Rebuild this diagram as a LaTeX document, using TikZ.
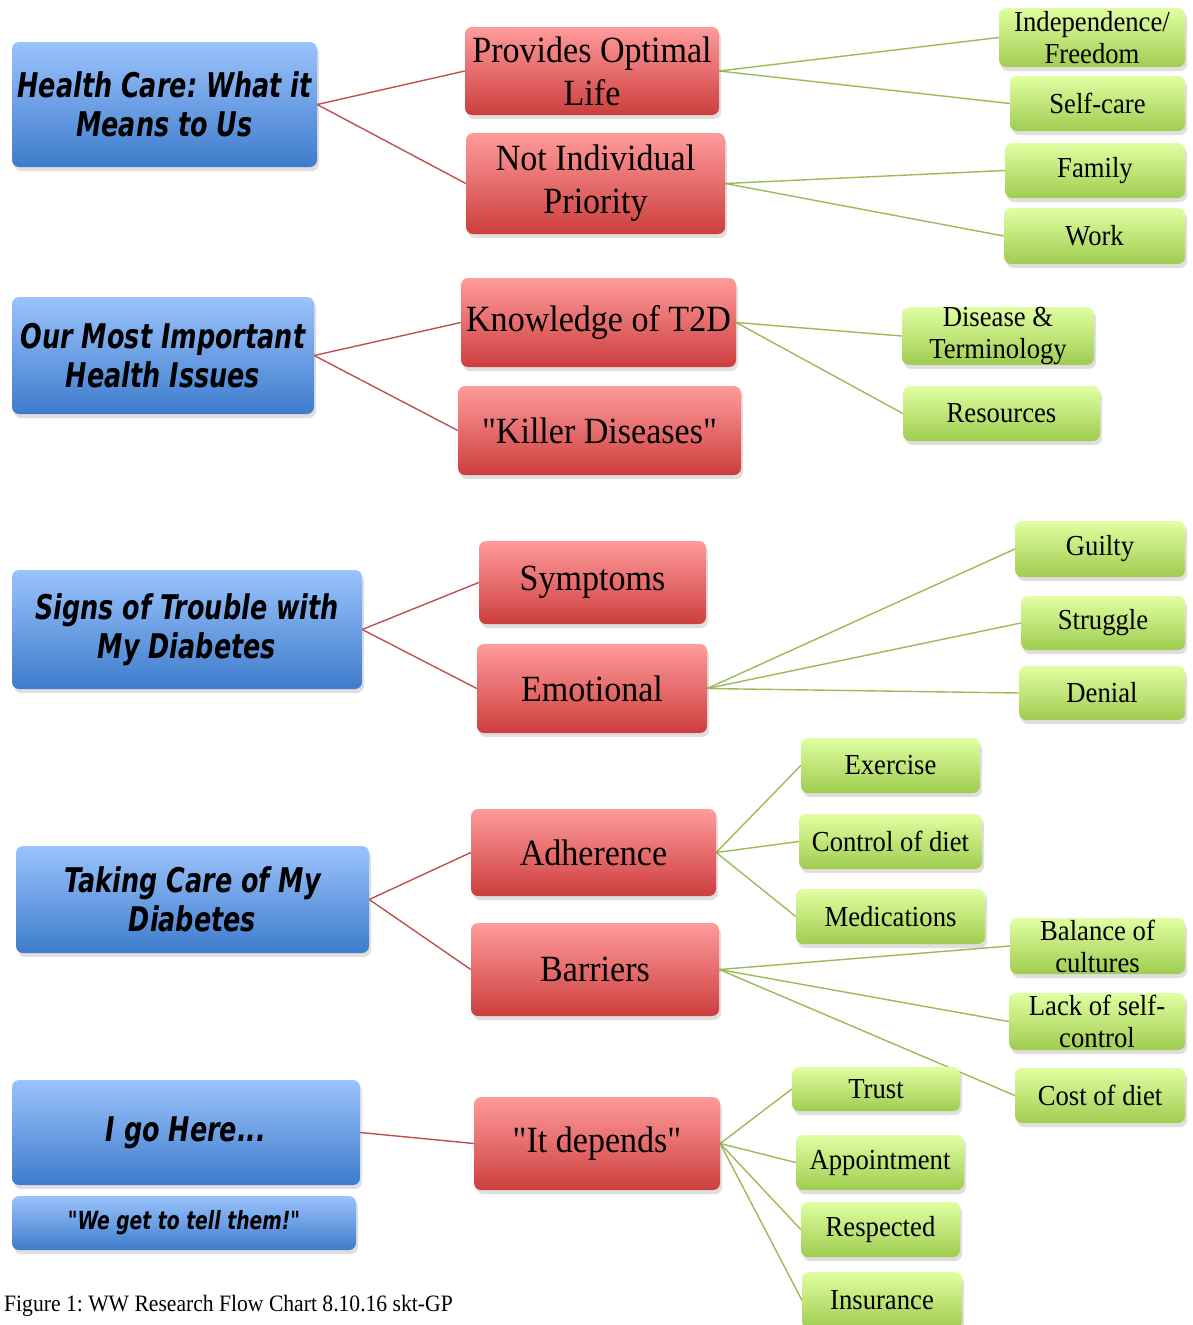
\documentclass[tikz,border=0pt]{standalone}
\usepackage{fontspec}
\setmainfont{Liberation Serif}[FakeStretch=0.92, Ligatures=TeXOff]
\newfontfamily\hdrfont{DejaVu Sans}[FakeStretch=0.75, Ligatures=TeXOff]
\usetikzlibrary{shadows}
\pgfdeclarelayer{background}
\pgfsetlayers{background,main}
\definecolor{bluetop}{RGB}{155,195,252}
\definecolor{bluebot}{RGB}{62,124,204}
\definecolor{redtop}{RGB}{255,155,155}
\definecolor{redbot}{RGB}{205,62,62}
\definecolor{greentop}{RGB}{224,255,162}
\definecolor{greenbot}{RGB}{160,204,80}
\definecolor{redline}{RGB}{192,80,77}
\definecolor{greenline}{RGB}{155,187,89}
\tikzset{
  boxbase/.style={rectangle, rounded corners=7pt, inner sep=0pt, align=center,
    drop shadow={opacity=0.25, shadow xshift=2pt, shadow yshift=-4pt}},
  bluebox/.style={boxbase, top color=bluetop, bottom color=bluebot,
    font=\hdrfont\bfseries\itshape\fontsize{34}{39}\selectfont},
  redbox/.style={boxbase, top color=redtop, bottom color=redbot,
    font=\fontsize{37}{43}\selectfont},
  greenbox/.style={boxbase, top color=greentop, bottom color=greenbot,
    font=\fontsize{29}{32}\selectfont},
  redconn/.style={draw=redline, line width=1.4pt},
  greenconn/.style={draw=greenline, line width=1.4pt},
}
\begin{document}
\frenchspacing
\begin{tikzpicture}[x=1pt,y=-1pt]
\useasboundingbox (0,0) rectangle (1192,1325);
% blue
\node[bluebox, minimum width=305pt, minimum height=125pt] (hc) at (164.5,104.5) {Health Care: What it\\Means to Us};
\node[bluebox, minimum width=302pt, minimum height=117pt] (omi) at (163,355.5) {Our Most Important\\Health Issues};
\node[bluebox, minimum width=350pt, minimum height=119pt] (sot) at (187,629.5) {Signs of Trouble with\\My Diabetes};
\node[bluebox, minimum width=353pt, minimum height=107pt] (tc) at (192.5,899.5) {Taking Care of My\\Diabetes};
\node[bluebox, minimum width=348pt, minimum height=105pt] (igh) at (186,1132.5) {I go Here...};
\node[bluebox, minimum width=344pt, minimum height=54pt, font=\hdrfont\bfseries\itshape\fontsize{25}{29}\selectfont] (wgt) at (184,1223) {"We get to tell them!"};
% red
\node[redbox, minimum width=254pt, minimum height=88pt] (pol) at (592,71) {Provides Optimal\\Life};
\node[redbox, minimum width=259pt, minimum height=101pt] (nip) at (595.5,183.5) {Not Individual\\Priority};
\node[redbox, minimum width=275pt, minimum height=89pt] (kt) at (598.5,322.5) {Knowledge of T2D};
\node[redbox, minimum width=283pt, minimum height=89pt] (kd) at (599.5,430.5) {"Killer Diseases"};
\node[redbox, minimum width=227pt, minimum height=83pt] (sym) at (592.5,582.5) {Symptoms};
\node[redbox, minimum width=230pt, minimum height=89pt] (emo) at (592,688.5) {Emotional};
\node[redbox, minimum width=245pt, minimum height=87pt] (adh) at (593.5,852.5) {Adherence};
\node[redbox, minimum width=248pt, minimum height=93pt] (bar) at (595,969.5) {Barriers};
\node[redbox, minimum width=246pt, minimum height=93pt] (itd) at (597,1143.5) {"It depends"};
% green
\node[greenbox, minimum width=186pt, minimum height=59pt] (ind) at (1092,37.5) {Independence/\\Freedom};
\node[greenbox, minimum width=175pt, minimum height=55pt] (sc) at (1097.5,103.5) {Self-care};
\node[greenbox, minimum width=180pt, minimum height=55pt] (fam) at (1095,170.5) {Family};
\node[greenbox, minimum width=181pt, minimum height=56pt] (wrk) at (1094.5,236) {Work};
\node[greenbox, minimum width=192pt, minimum height=56pt] (dis) at (998,336) {Disease \&\\Terminology};
\node[greenbox, minimum width=197pt, minimum height=55pt] (res) at (1001.5,413.5) {Resources};
\node[greenbox, minimum width=170pt, minimum height=56pt] (gui) at (1100,549) {Guilty};
\node[greenbox, minimum width=164pt, minimum height=54pt] (str) at (1103,623) {Struggle};
\node[greenbox, minimum width=166pt, minimum height=54pt] (den) at (1102,693) {Denial};
\node[greenbox, minimum width=179pt, minimum height=55pt] (exe) at (890.5,765.5) {Exercise};
\node[greenbox, minimum width=183pt, minimum height=55pt] (cod) at (890.5,841.5) {Control of diet};
\node[greenbox, minimum width=189pt, minimum height=55pt] (med) at (890.5,916.5) {Medications};
\node[greenbox, minimum width=175pt, minimum height=56pt] (boc) at (1097.5,946) {Balance of\\cultures};
\node[greenbox, minimum width=176pt, minimum height=57pt] (lsc) at (1097,1021.5) {Lack of self-\\control};
\node[greenbox, minimum width=170pt, minimum height=55pt] (cst) at (1100,1095.5) {Cost of diet};
\node[greenbox, minimum width=168pt, minimum height=44pt] (tru) at (876,1089) {Trust};
\node[greenbox, minimum width=168pt, minimum height=55pt] (app) at (880,1162.5) {Appointment};
\node[greenbox, minimum width=159pt, minimum height=55pt] (rsp) at (880.5,1229.5) {Respected};
\node[greenbox, minimum width=160pt, minimum height=56pt] (ins) at (882,1300) {Insurance};
% caption
\node[anchor=base west, inner sep=0pt, font=\fontsize{23.5}{27}\selectfont] (cap) at (4,1311) {Figure 1: WW Research Flow Chart 8.10.16 skt-GP};
\begin{pgfonlayer}{background}
\draw[redconn] (hc.east) -- (pol.west);
\draw[redconn] (hc.east) -- (nip.west);
\draw[redconn] (omi.east) -- (kt.west);
\draw[redconn] (omi.east) -- (kd.west);
\draw[redconn] (sot.east) -- (sym.west);
\draw[redconn] (sot.east) -- (emo.west);
\draw[redconn] (tc.east) -- (adh.west);
\draw[redconn] (tc.east) -- (bar.west);
\draw[redconn] (igh.east) -- (itd.west);
\draw[greenconn] (pol.east) -- (ind.west);
\draw[greenconn] (pol.east) -- (sc.west);
\draw[greenconn] (nip.east) -- (fam.west);
\draw[greenconn] (nip.east) -- (wrk.west);
\draw[greenconn] (kt.east) -- (dis.west);
\draw[greenconn] (kt.east) -- (res.west);
\draw[greenconn] (emo.east) -- (gui.west);
\draw[greenconn] (emo.east) -- (str.west);
\draw[greenconn] (emo.east) -- (den.west);
\draw[greenconn] (adh.east) -- (exe.west);
\draw[greenconn] (adh.east) -- (cod.west);
\draw[greenconn] (adh.east) -- (med.west);
\draw[greenconn] (bar.east) -- (boc.west);
\draw[greenconn] (bar.east) -- (lsc.west);
\draw[greenconn] (bar.east) -- (cst.west);
\draw[greenconn] (itd.east) -- (tru.west);
\draw[greenconn] (itd.east) -- (app.west);
\draw[greenconn] (itd.east) -- (rsp.west);
\draw[greenconn] (itd.east) -- (ins.west);
\end{pgfonlayer}
\end{tikzpicture}
\end{document}
